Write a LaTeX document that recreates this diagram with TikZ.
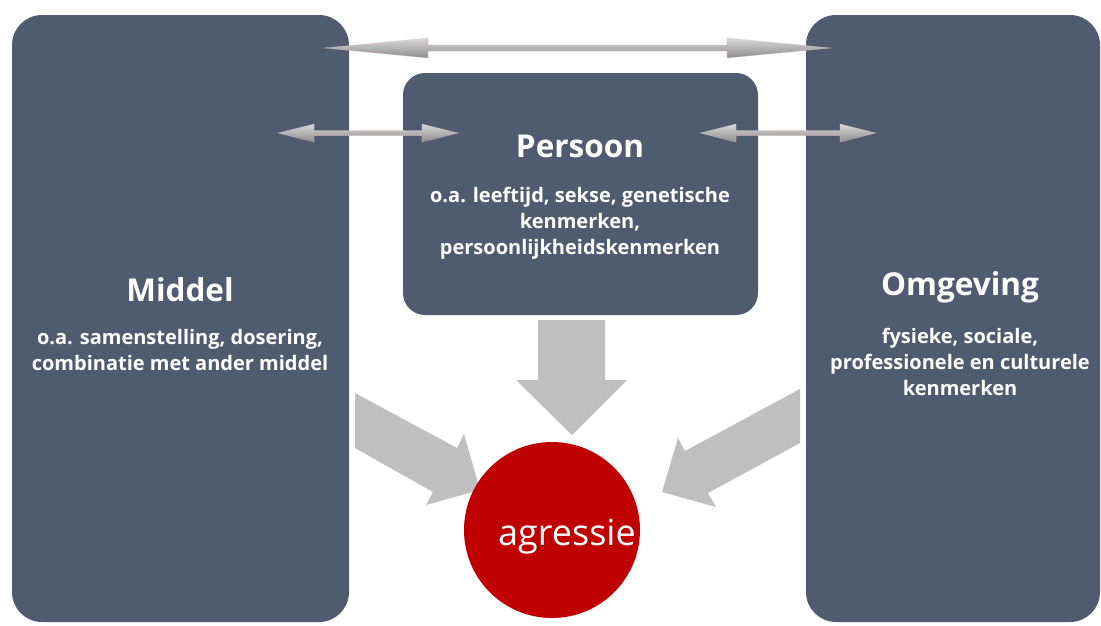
\documentclass[tikz,border=0pt]{standalone}
\usepackage{fontspec}
\setmainfont{Open Sans}
\usetikzlibrary{calc}
\definecolor{boxblue}{RGB}{79,91,111}
\definecolor{aggred}{RGB}{192,0,0}
\definecolor{blockgray}{RGB}{191,191,191}
\newcommand\dblarr[6]{% y, xa, xb, headlen, headhalf, shafthalf
  \path[top color=gray!30,bottom color=gray!90,shading angle=0,draw=gray!60!red!40,densely dotted,line width=0.6pt]
   (#2,#1) -- (#2+#4,#1-#5) -- (#2+#4,#1-#6) -- (#3-#4,#1-#6) -- (#3-#4,#1-#5) -- (#3,#1)
   -- (#3-#4,#1+#5) -- (#3-#4,#1+#6) -- (#2+#4,#1+#6) -- (#2+#4,#1+#5) -- cycle;}
\begin{document}
\begin{tikzpicture}[x=1pt,y=-1pt,
  bigbox/.style={draw=none,fill=boxblue,rounded corners=30pt,inner sep=0pt},
  title/.style={text=white,font=\bfseries\fontsize{31.5}{38}\selectfont,inner sep=0pt},
  sub/.style={text=white,font=\bfseries\fontsize{20}{26}\selectfont,align=center,inner sep=0pt},
  blockarrow/.style={fill=blockgray,draw=none}]
\useasboundingbox (0,0) rectangle (1101,625);
\fill[white] (0,0) rectangle (1101,625);
% boxes
\node[bigbox,minimum width=337pt,minimum height=607pt] (middel) at (180.5,318.5) {};
\node[bigbox,minimum width=294pt,minimum height=607pt] (omgeving) at (953,318.5) {};
\node[bigbox,rounded corners=22pt,minimum width=355pt,minimum height=242pt] (persoon) at (580.5,194) {};
% texts
\node[title] (middelt) at (180,290) {Middel};
\node[sub] (middels) at (180,350) {o.a. samenstelling, dosering,\\combinatie met ander middel};
\node[title] (persoont) at (580,146) {Persoon};
\node[sub] (persoons) at (580,223) {o.a. leeftijd, sekse, genetische\\kenmerken,\\persoonlijkheidskenmerken};
\node[title] (omgevingt) at (960,287) {Omgeving};
\node[sub] (omgevings) at (960,362) {fysieke, sociale,\\professionele en culturele\\kenmerken};
% block arrows
\fill[blockgray] (538,320) -- (605,320) -- (605,380) -- (627,380) -- (572,435) -- (516,380) -- (538,380) -- cycle;
\fill[blockgray] (355,393) -- (457,448) -- (464,434) -- (480,490) -- (426,505) -- (433,492) -- (355,448) -- cycle;
\fill[blockgray] (800,389) -- (685,451) -- (678,438) -- (662,492) -- (716,507) -- (708,493) -- (800,443) -- cycle;
% circle
\node[circle,fill=aggred,minimum size=176pt,inner sep=0pt] (agressie) at (552,530) {};
\node[text=white,font=\fontsize{36}{42}\selectfont,inner sep=0pt] (agressiet) at (567,537) {agressie};
% double arrows
\dblarr{48}{324}{831}{104}{10}{3}
\dblarr{133}{278}{458}{36}{9}{2.5}
\dblarr{133}{700}{876}{36}{9}{2.5}
\end{tikzpicture}
\end{document}
